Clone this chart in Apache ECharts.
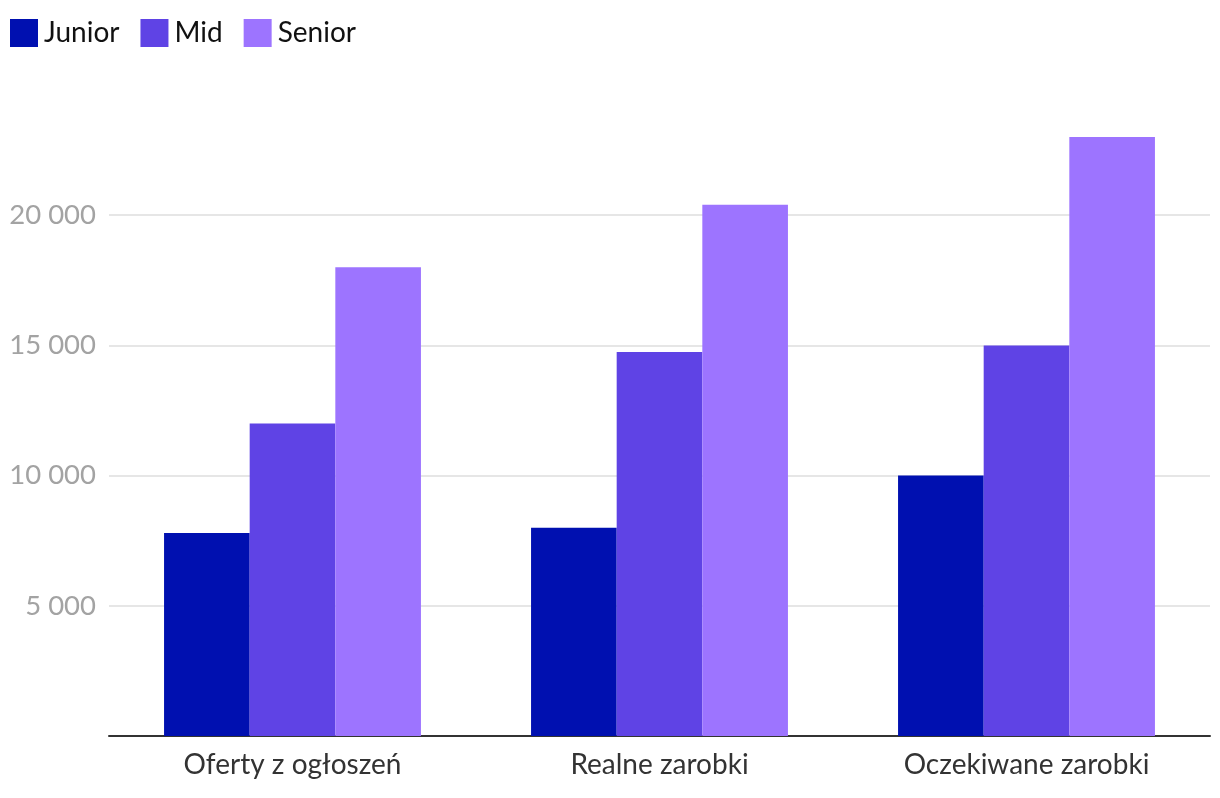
<!DOCTYPE html>
<html>
<head>
<meta charset="utf-8">
<script src="https://cdn.jsdelivr.net/npm/echarts@6/dist/echarts.min.js"></script>
<style>html,body{margin:0;padding:0;background:#fff}#c{width:1220px;height:798px}</style>
</head>
<body>
<div id="c"></div>
<script>
const categories = ['Oferty z ogłoszeń', 'Realne zarobki', 'Oczekiwane zarobki'];
const junior = [7800, 8000, 10000];
const mid = [12000, 14750, 15000];
const senior = [18000, 20400, 23000];
const seriesNames = ['Junior', 'Mid', 'Senior'];
const colors = ['#0010B0', '#5F43E5', '#9D74FF'];

const chart = echarts.init(document.getElementById('c'));
const font = 'Lato, "Noto Sans", sans-serif';
chart.setOption({
  animation: false,
  textStyle: { fontFamily: font },
  color: colors,
  legend: {
    left: 10, top: 19, padding: 0,
    itemWidth: 28, itemHeight: 28, itemGap: 21,
    icon: 'rect',
    textStyle: { fontSize: 28, color: '#111', fontFamily: font, padding: [2, 0, 0, 1] },
    data: seriesNames
  },
  grid: { left: 109, right: 10, top: 85, bottom: 62, containLabel: false },
  xAxis: {
    type: 'category',
    data: categories,
    axisLine: { lineStyle: { color: '#333', width: 2 } },
    axisTick: { show: false },
    axisLabel: { fontSize: 28, color: '#333', margin: 15, fontFamily: font }
  },
  yAxis: {
    type: 'value',
    min: 0, max: 25000, interval: 5000,
    axisLine: { show: false },
    axisTick: { show: false },
    splitLine: { lineStyle: { color: '#e6e6e6', width: 2 }, showMinLine: false, showMaxLine: false },
    axisLabel: {
      fontSize: 27.5, color: '#a3a3a3', margin: 13, fontFamily: font,
      showMinLabel: false, showMaxLabel: false,
      formatter: v => String(v).replace(/\B(?=(\d{3})+(?!\d))/g, ' ')
    }
  },
  series: [
    { name: seriesNames[0], type: 'bar', data: junior, barGap: '0%', barCategoryGap: '30%' },
    { name: seriesNames[1], type: 'bar', data: mid, barGap: '0%', barCategoryGap: '30%' },
    { name: seriesNames[2], type: 'bar', data: senior, barGap: '0%', barCategoryGap: '30%' }
  ]
});
</script>
</body>
</html>
